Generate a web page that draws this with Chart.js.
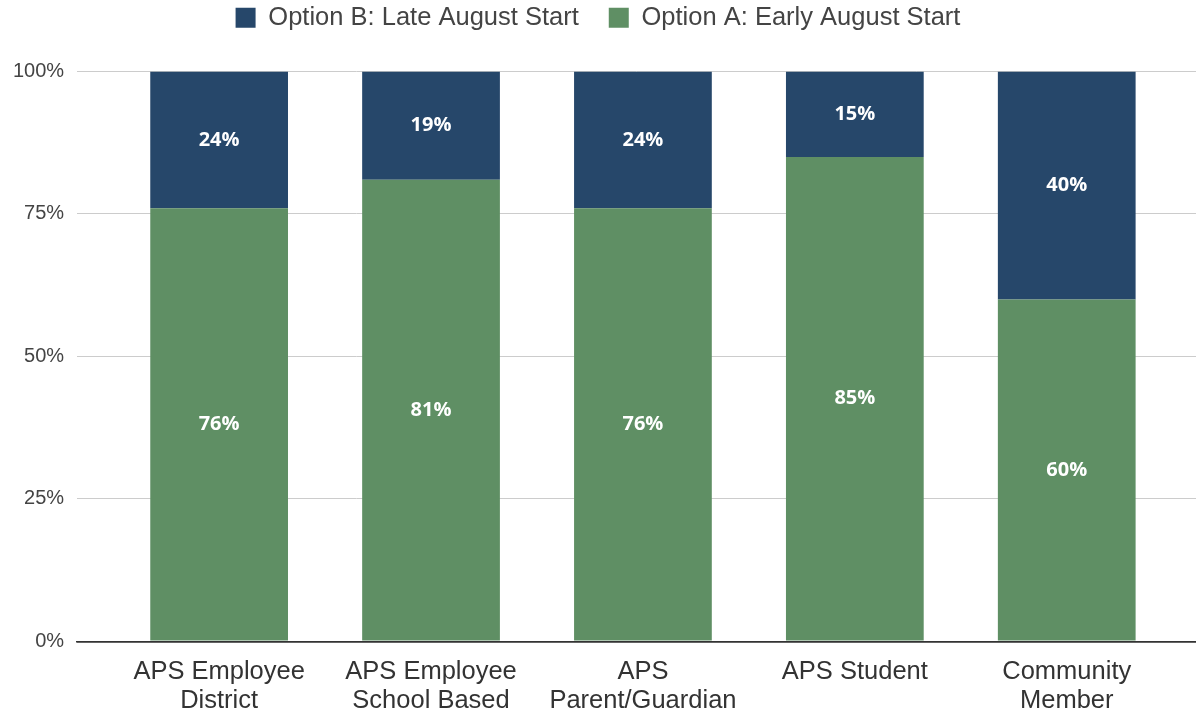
<!DOCTYPE html>
<html>
<head>
<meta charset="utf-8">
<script src="https://cdn.jsdelivr.net/npm/chart.js@4"></script>
<style>
  html, body { margin: 0; padding: 0; background: #fff; }
  #wrap { width: 1196px; height: 711px; }
</style>
</head>
<body>
<div id="wrap"><canvas id="chart"></canvas></div>
<script>
const categories = [
  ["APS Employee", "District"],
  ["APS Employee", "School Based"],
  ["APS", "Parent/Guardian"],
  ["APS Student"],
  ["Community", "Member"]
];
const optionA = [76, 81, 76, 85, 60];
const optionB = [24, 19, 24, 15, 40];
const yTicks = [0, 25, 50, 75, 100];

const navy = "#26476a";
const green = "#5f8f64";

// white percentage labels in the middle of each segment
const segmentLabels = {
  id: "segmentLabels",
  afterDatasetsDraw(chart) {
    const ctx = chart.ctx;
    ctx.save();
    ctx.fillStyle = "#fff";
    ctx.font = "bold 20px 'Open Sans'";
    ctx.textAlign = "center";
    ctx.textBaseline = "middle";
    chart.data.datasets.forEach((ds, i) => {
      chart.getDatasetMeta(i).data.forEach((bar, j) => {
        ctx.fillText(ds.data[j].y + "%", bar.x, (bar.y + bar.base) / 2);
      });
    });
    ctx.restore();
  }
};

// extra room between legend and plot
const legendGap = {
  id: "legendGap",
  beforeInit(chart) {
    const fit = chart.legend.fit;
    chart.legend.fit = function () {
      fit.bind(chart.legend)();
      this.height += 31;
    };
  }
};

const toPoints = (arr) => arr.map((v, i) => ({ x: i, y: v }));

new Chart(document.getElementById("chart"), {
  type: "bar",
  data: {
    datasets: [
      { label: "Option A: Early August Start", data: toPoints(optionA), backgroundColor: green },
      { label: "Option B: Late August Start", data: toPoints(optionB), backgroundColor: navy }
    ]
  },
  options: {
    responsive: true,
    maintainAspectRatio: false,
    animation: false,
    barPercentage: 0.65,
    categoryPercentage: 1,
    layout: { padding: { left: 0, right: 0, top: -25, bottom: -13 } },
    plugins: {
      tooltip: { enabled: false },
      legend: {
        position: "top",
        reverse: true,
        labels: {
          boxWidth: 20,
          boxHeight: 20,
          padding: 30,
          color: "#444",
          font: { family: "Liberation Sans", size: 25.5 }
        }
      }
    },
    scales: {
      x: {
        type: "linear",
        stacked: true,
        offset: false,
        min: -0.67,
        max: 4.61,
        grid: { display: false },
        border: { color: "#333", width: 1.5 },
        ticks: {
          stepSize: 1,
          includeBounds: false,
          autoSkip: false,
          maxRotation: 0,
          padding: 8,
          color: "#333",
          font: { family: "Liberation Sans", size: 25.5, lineHeight: 1.15 },
          callback: (v) => categories[v] || ""
        }
      },
      y: {
        stacked: true,
        min: 0,
        max: 100,
        afterBuildTicks: (axis) => { axis.ticks = yTicks.map((v) => ({ value: v })); },
        grid: {
          drawTicks: false,
          color: (c) => (c.tick && c.tick.value === 0 ? "#333" : "#ccc"),
          lineWidth: (c) => (c.tick && c.tick.value === 0 ? 1.5 : 1)
        },
        border: { display: false },
        ticks: {
          padding: 13,
          color: "#444",
          font: { family: "Liberation Sans", size: 20 },
          callback: (v) => v + "%"
        }
      }
    }
  },
  plugins: [segmentLabels, legendGap]
});
</script>
</body>
</html>
